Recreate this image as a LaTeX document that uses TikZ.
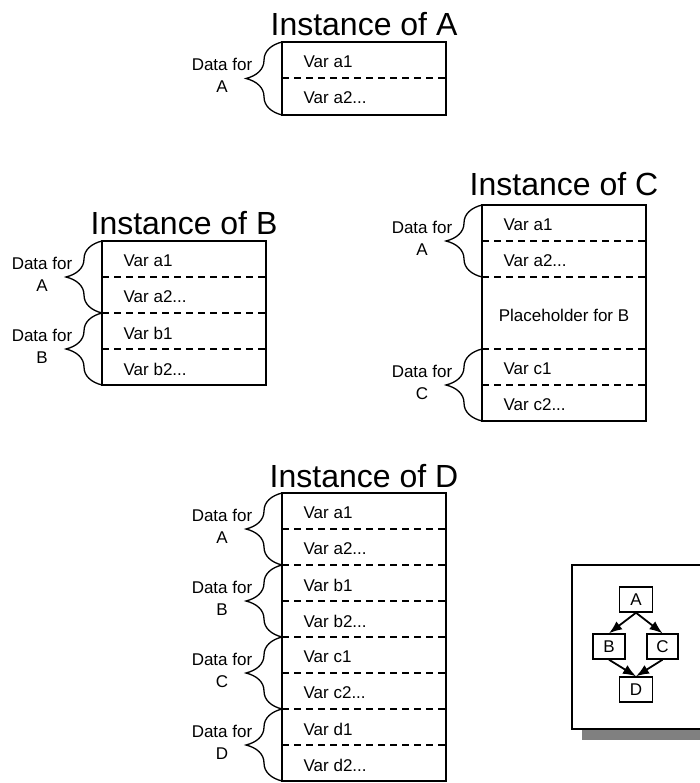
\documentclass[tikz,border=0pt]{standalone}
\usepackage{fontspec}
\setmainfont{Liberation Sans}
\usetikzlibrary{arrows.meta,decorations.pathreplacing}

\begin{document}
\begin{tikzpicture}[x=1pt,y=-1pt,line width=1.3pt,
  every node/.style={font=\fontsize{17}{22}\selectfont,inner sep=0pt},
  title/.style={font=\fontsize{32}{36}\selectfont,anchor=base},
  field/.style={anchor=west},
  divider/.style={dash pattern=on 7pt off 5pt},
  grp/.style={decorate,decoration={brace,amplitude=36pt}},
  grplbl/.style={align=center},
  dagnode/.style={draw,line width=1.4pt,minimum width=33pt,minimum height=25pt},
  dagedge/.style={-{Latex[length=13pt,width=10pt]},line width=1.8pt}]
 \useasboundingbox (0,0) rectangle (699,783);
 % instance of A
 \node[title] (titleA) at (364,36) {Instance of A};
 \draw (282,42) rectangle (446,115);
 \draw[divider] (282,78)--(446,78);
 \node[field] (aA1) at (303,62) {Var a1};
 \node[field] (aA2) at (303,98) {Var a2...};
 \draw[grp] (282,115)--(282,42);
 \node[grplbl] (grpAA) at (222,75) {Data for\\A};
 % instance of B
 \node[title] (titleB) at (184,235) {Instance of B};
 \draw (102,241) rectangle (266,385);
 \foreach \y in {277,313,349}
  \draw[divider] (102,\y)--(266,\y);
 \node[field] (bA1) at (123,261) {Var a1};
 \node[field] (bA2) at (123,297) {Var a2...};
 \node[field] (bB1) at (123,333) {Var b1};
 \node[field] (bB2) at (123,369) {Var b2...};
 \draw[grp] (102,313)--(102,241);
 \draw[grp] (102,385)--(102,313);
 \node[grplbl] (grpBA) at (42,274) {Data for\\A};
 \node[grplbl] (grpBB) at (42,346) {Data for\\B};
 % instance of C
 \node[title] (titleC) at (564,196) {Instance of C};
 \draw (482,205) rectangle (646,421);
 \foreach \y in {241,277,349,385}
  \draw[divider] (482,\y)--(646,\y);
 \node[field] (cA1) at (503,225) {Var a1};
 \node[field] (cA2) at (503,261) {Var a2...};
 \node (cHold) at (564,315) {Placeholder for B};
 \node[field] (cC1) at (503,369) {Var c1};
 \node[field] (cC2) at (503,405) {Var c2...};
 \draw[grp] (482,277)--(482,205);
 \draw[grp] (482,421)--(482,349);
 \node[grplbl] (grpCA) at (422,238) {Data for\\A};
 \node[grplbl] (grpCC) at (422,382) {Data for\\C};
 % instance of D
 \node[title] (titleD) at (364,487) {Instance of D};
 \draw (282,493) rectangle (446,781);
 \foreach \y in {529,565,601,637,673,709,745}
  \draw[divider] (282,\y)--(446,\y);
 \foreach \v/\V [count=\i from 0] in {a/A,b/B,c/C,d/D} {
  \node[field] (d\V1) at (303,513+72*\i) {Var \v1};
  \node[field] (d\V2) at (303,549+72*\i) {Var \v2...};
  \draw[grp] (282,565+72*\i)--(282,493+72*\i);
  \node[grplbl] (grpD\V) at (222,526+72*\i) {Data for\\\V};
 }
 % inheritance graph
 \fill[black!50] (582,576) rectangle (712,740);
 \draw[fill=white,line width=1.4pt] (572,565) rectangle (712,729);
 \node[dagnode] (A) at (636,599.5) {A};
 \node[dagnode,minimum width=32pt] (B) at (609,646.5) {B};
 \node[dagnode,minimum width=31pt] (C) at (662.5,646.5) {C};
 \node[dagnode] (D) at (636,689.5) {D};
 \draw[dagedge] (A.south) -- (B.north);
 \draw[dagedge] (A.south) -- (C.north);
 \draw[dagedge] (B.south) -- (D.north);
 \draw[dagedge] (C.south) -- (D.north);
\end{tikzpicture}
\end{document}
